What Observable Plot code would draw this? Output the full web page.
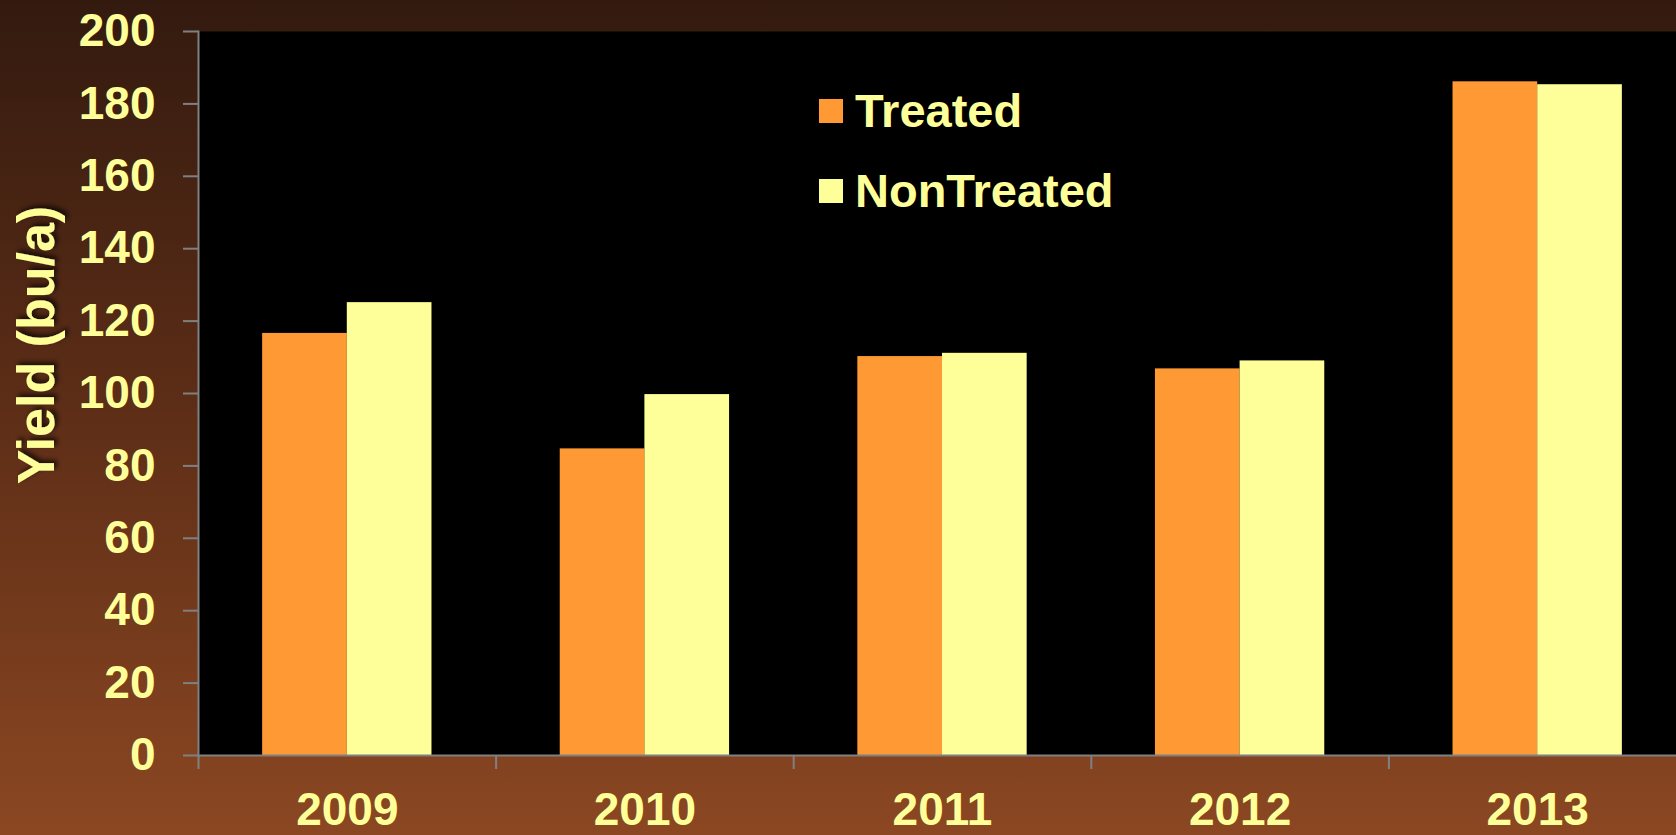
<!DOCTYPE html>
<html>
<head>
<meta charset="utf-8">
<script src="https://cdn.jsdelivr.net/npm/d3@7"></script>
<script src="https://cdn.jsdelivr.net/npm/@observablehq/plot@0.6"></script>
<style>
  html, body { margin: 0; padding: 0; width: 1676px; height: 835px; overflow: hidden; }
  body { background: linear-gradient(to bottom, #331a0f 0%, #5e2e17 50%, #8b4722 100%); }
  #chart { position: relative; width: 1676px; height: 835px; overflow: hidden; }
  #chart svg { display: block; max-width: none !important; }
</style>
</head>
<body>
<div id="chart"></div>
<script>
// ---- data ----
const years = ["2009", "2010", "2011", "2012", "2013"];
const treated = [116.6, 84.7, 110.2, 106.8, 186.1];
const nonTreated = [125.1, 99.7, 111.1, 109.0, 185.3];
const seriesNames = ["Treated", "NonTreated"];
const seriesColors = ["#ff9933", "#ffff99"];
const yTicks = [0, 20, 40, 60, 80, 100, 120, 140, 160, 180, 200];
const yTitle = "Yield (bu/a)";

// ---- layout ----
const W = 1686, H = 835;
const mL = 198, mR = 0, mT = 31, mB = 80;
const step = (W - mL - mR) / years.length;
const groupFrac = 0.569;
const outer = step * (1 - groupFrac) / 2;
const half = step / 2;
const axisGray = "#808080";
const textColor = "#ffff99";
const font = "'Liberation Sans', Arial, Helvetica, sans-serif";

const rows = years.map((year, i) => ({ year, Treated: treated[i], NonTreated: nonTreated[i] }));

const plot = Plot.plot({
  width: W, height: H,
  marginLeft: mL, marginRight: mR, marginTop: mT, marginBottom: mB,
  style: { background: "transparent", fontFamily: font, maxWidth: "none", overflow: "visible" },
  x: { type: "band", domain: years, padding: 0, round: false },
  y: { domain: [0, 200] },
  marks: [
    Plot.frame({ fill: "black" }),
    Plot.barY(rows, { x: "year", y: seriesNames[0], fill: seriesColors[0], insetLeft: outer, insetRight: half }),
    Plot.barY(rows, { x: "year", y: seriesNames[1], fill: seriesColors[1], insetLeft: half, insetRight: outer }),
    Plot.ruleY([0], { stroke: axisGray, strokeWidth: 2 }),
    Plot.frame({ anchor: "left", stroke: axisGray, strokeWidth: 2 }),
    Plot.axisY({ ticks: yTicks, tickSize: 15, tickPadding: 28, stroke: axisGray, strokeWidth: 2,
                 fill: textColor, fontSize: 46, fontWeight: "bold", label: null }),
    Plot.axisX({ tickSize: 14, tickFormat: () => "", dx: -half, stroke: axisGray, strokeWidth: 2, label: null }),
    Plot.axisX({ tickSize: 0, tickPadding: 37, fill: textColor, fontSize: 46, fontWeight: "bold", label: null })
  ]
});

document.getElementById("chart").appendChild(plot);

// ---- title & legend ----
const svg = d3.select(plot);
const defs = svg.append("defs");
const filt = defs.append("filter").attr("id", "tshadow")
  .attr("x", "-20%").attr("y", "-20%").attr("width", "140%").attr("height", "140%");
filt.append("feDropShadow").attr("dx", 3).attr("dy", 3).attr("stdDeviation", 2.5)
  .attr("flood-color", "#000").attr("flood-opacity", 0.7);

svg.append("text")
  .attr("transform", "translate(54,345) rotate(-90)")
  .attr("text-anchor", "middle")
  .attr("font-family", font)
  .attr("font-size", 52)
  .attr("font-weight", "bold")
  .attr("fill", textColor)
  .attr("filter", "url(#tshadow)")
  .text(yTitle);

const legend = svg.append("g").attr("transform", "translate(819,99)");
seriesNames.forEach((name, i) => {
  const g = legend.append("g").attr("transform", `translate(0,${i * 80})`);
  g.append("rect").attr("width", 24).attr("height", 24).attr("fill", seriesColors[i]);
  g.append("text")
    .attr("x", 36).attr("y", 28)
    .attr("text-anchor", "start")
    .attr("font-family", font)
    .attr("font-size", 47)
    .attr("font-weight", "bold")
    .attr("fill", textColor)
    .text(name);
});
</script>
</body>
</html>
